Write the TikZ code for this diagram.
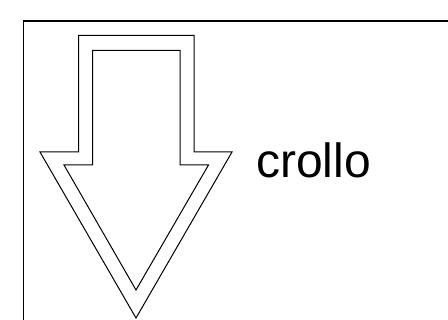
\documentclass[tikz,border=0pt]{standalone}
\usepackage{fontspec}
\setmainfont{Liberation Sans}

\begin{document}
\begin{tikzpicture}[x=1pt,y=-1pt, outline/.style={draw,line width=1pt,line join=miter}, frameline/.style={draw,line width=1.4pt}]
  \useasboundingbox (0,0) rectangle (448,320);
  \clip (0,0) rectangle (448,320);
  \draw[frameline] (23.5,21) rectangle (470,340);
  % outer and inner outline of the arrow
  \draw[outline] (78.5,35.5) -- (194,35.5) -- (194,152) -- (232,152) -- (136,318) -- (40,152) -- (78.5,152) -- cycle;
  \draw[outline] (92.5,50.5) -- (180,50.5) -- (180,165) -- (208.5,165) -- (136,290) -- (64,165) -- (92.5,165) -- cycle;
  \node[anchor=base west,inner sep=0pt,font=\fontsize{48}{50}\selectfont] (crollo) at (256,178) {crollo};
\end{tikzpicture}
\end{document}
